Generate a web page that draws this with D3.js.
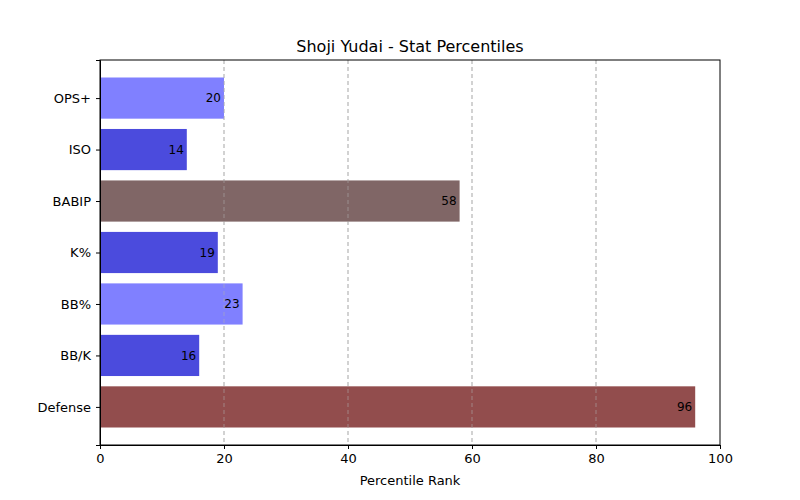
<!DOCTYPE html>
<html><head><meta charset="utf-8">
<script src="https://cdn.jsdelivr.net/npm/d3@7"></script>
<style>body{margin:0;background:#fff;font-family:"DejaVu Sans",sans-serif;}</style>
</head><body><div id="chart"></div>
<script>
// data (bottom to top)
var categories = ["Defense", "BB/K", "BB%", "K%", "BABIP", "ISO", "OPS+"];
var values = [96, 16, 23, 19, 58, 14, 20];
var colors = ["#924d4d", "#4b4bdd", "#8080ff", "#4b4bdd", "#806666", "#4b4bdd", "#8080ff"];
var xTicks = [0, 20, 40, 60, 80, 100];

var svg = d3.select("#chart").append("svg").attr("width", 800).attr("height", 500);
var mLeft = 100, mRight = 720, mTop = 60, mBottom = 445;

var x = d3.scaleLinear().domain([0, 100]).range([mLeft, mRight]);
var y = d3.scaleLinear().domain([-0.74, 6.74]).range([mBottom, mTop]);
var bh = y(0) - y(0.8);

// grid
svg.selectAll(".grid").data(xTicks.slice(1, -1)).enter().append("line")
    .attr("x1", d => x(d)).attr("x2", d => x(d))
    .attr("y1", mTop).attr("y2", mBottom)
    .attr("stroke", "#b0b0b0").attr("stroke-dasharray", "4,3").attr("stroke-width", 0.8);

// bars
svg.selectAll(".bar").data(values).enter().append("rect")
    .attr("x", x(0))
    .attr("y", (d, i) => y(i + 0.4))
    .attr("width", d => x(d) - x(0))
    .attr("height", bh)
    .attr("fill", (d, i) => colors[i]);

// grid above bars (matplotlib draws it on top here)
svg.selectAll(".grid2").data(xTicks.slice(1, -1)).enter().append("line")
    .attr("x1", d => x(d)).attr("x2", d => x(d))
    .attr("y1", mTop).attr("y2", mBottom)
    .attr("stroke", "#b0b0b0").attr("stroke-opacity", 0.7).attr("stroke-dasharray", "4,3").attr("stroke-width", 0.8);

// value labels
svg.selectAll(".val").data(values).enter().append("text")
    .attr("x", d => x(d) - 3)
    .attr("y", (d, i) => y(i))
    .attr("dy", "0.35em")
    .attr("text-anchor", "end")
    .attr("font-size", "12px")
    .text(d => d);

// axes
var xAxis = d3.axisBottom(x).tickValues(xTicks).tickSize(4).tickPadding(5);
svg.append("g").attr("transform", `translate(0,${mBottom})`).call(xAxis)
    .call(g => g.selectAll("text").attr("font-size", "13px").attr("font-family", "DejaVu Sans"));

var yAxis = d3.axisLeft(y).tickValues(d3.range(categories.length))
    .tickFormat(i => categories[i]).tickSize(4).tickPadding(5);
svg.append("g").attr("transform", `translate(${mLeft},0)`).call(yAxis)
    .call(g => g.selectAll("text").attr("font-size", "13px").attr("font-family", "DejaVu Sans"));

// frame
svg.append("rect").attr("x", mLeft).attr("y", mTop).attr("width", mRight - mLeft).attr("height", mBottom - mTop)
    .attr("fill", "none").attr("stroke", "#000").attr("stroke-width", 1);

// title and label
svg.append("text").attr("x", (mLeft + mRight) / 2).attr("y", 52).attr("text-anchor", "middle")
    .attr("font-size", "16px").text("Shoji Yudai - Stat Percentiles");
svg.append("text").attr("x", (mLeft + mRight) / 2).attr("y", 485).attr("text-anchor", "middle")
    .attr("font-size", "13px").text("Percentile Rank");
</script>
</body></html>
